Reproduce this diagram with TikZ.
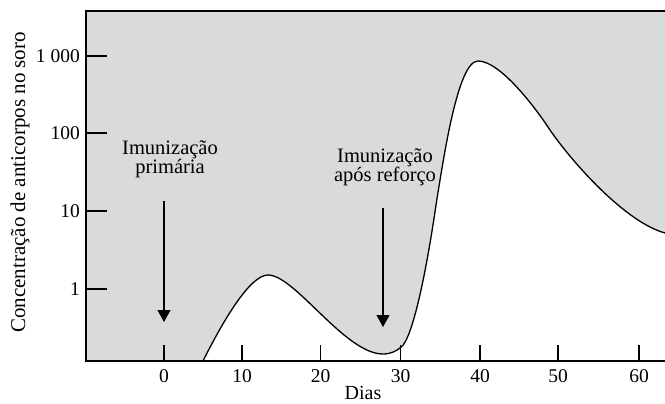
\documentclass[tikz,border=0pt]{standalone}
\usepackage{fontspec}
\setmainfont{Liberation Serif}
\usetikzlibrary{arrows.meta}
\definecolor{areagrey}{RGB}{217,218,220}
\tikzset{
  crvpath/.style={insert path={(203,361)
    .. controls (223,321) and (250,275) .. (268,275)
    .. controls (295,275) and (345,354) .. (383,354)
    .. controls (391,354) and (396,351) .. (400,348)
    .. controls (415,340) and (431,240) .. (436,205)
    .. controls (444,155) and (458,61) .. (478,61)
    .. controls (500,61) and (535,107) .. (550,130)
    .. controls (572,162) and (625,222) .. (665,233)}},
  axisline/.style={line width=1.4pt},
  tickline/.style={line width=1.3pt},
  curveline/.style={line width=1.3pt, line join=round},
  arrowline/.style={line width=1.2pt, -{Triangle[width=13pt,length=12pt]}},
  numlab/.style={font=\fontsize{19.5}{19.5}\selectfont, inner sep=0pt},
  txtlab/.style={font=\fontsize{20.5}{19}\selectfont, inner sep=0pt, align=center},
}
\begin{document}
\begin{tikzpicture}[x=1pt,y=-1pt]
\useasboundingbox (0,0) rectangle (665,404);
% shaded area
\fill[areagrey] (86,11) rectangle (665,361);
\fill[white, crvpath] -- (665,361) -- cycle;
\draw[curveline, crvpath];
% frame
\draw[axisline] (665,11) -- (86,11) -- (86,361) -- (665,361);
% y ticks and labels
\foreach \yy/\lab/\nm in {56/{1 000}/ya, 133/100/yb, 211/10/yc, 289/1/yd}{
  \draw[tickline] (86,\yy) -- (107,\yy);
  \node[numlab, anchor=base east] (\nm) at (80,\yy+6.5) {\lab};
}
% x ticks and labels
\foreach \xx/\lab/\nm in {164/0/xa, 242/10/xb, 320.5/20/xc, 400.5/30/xd, 480/40/xe, 558/50/xf, 639/60/xg}{
  \draw[tickline] (\xx,345) -- (\xx,361);
  \node[numlab, anchor=base] (\nm) at (\xx,382) {\lab};
}
\node[font=\fontsize{20}{20}\selectfont, inner sep=0pt, anchor=base] (xlab) at (363,399.5) {Dias};
\node[font=\fontsize{21}{21}\selectfont, inner sep=0pt, rotate=90, anchor=base] (ylab) at (25,182.5) {Concentração de anticorpos no soro};
% annotations
\node[txtlab, anchor=base] (lab1) at (170,173) {Imunização\\primária};
\node[txtlab, anchor=base] (lab2) at (385,182) {Imunização\\após reforço};
\coordinate (a1s) at (164,201);
\coordinate (a1e) at (164,322);
\coordinate (a2s) at (383,208);
\coordinate (a2e) at (383,327);
\draw[arrowline] (a1s) -- (a1e);
\draw[arrowline] (a2s) -- (a2e);
\end{tikzpicture}
\end{document}
